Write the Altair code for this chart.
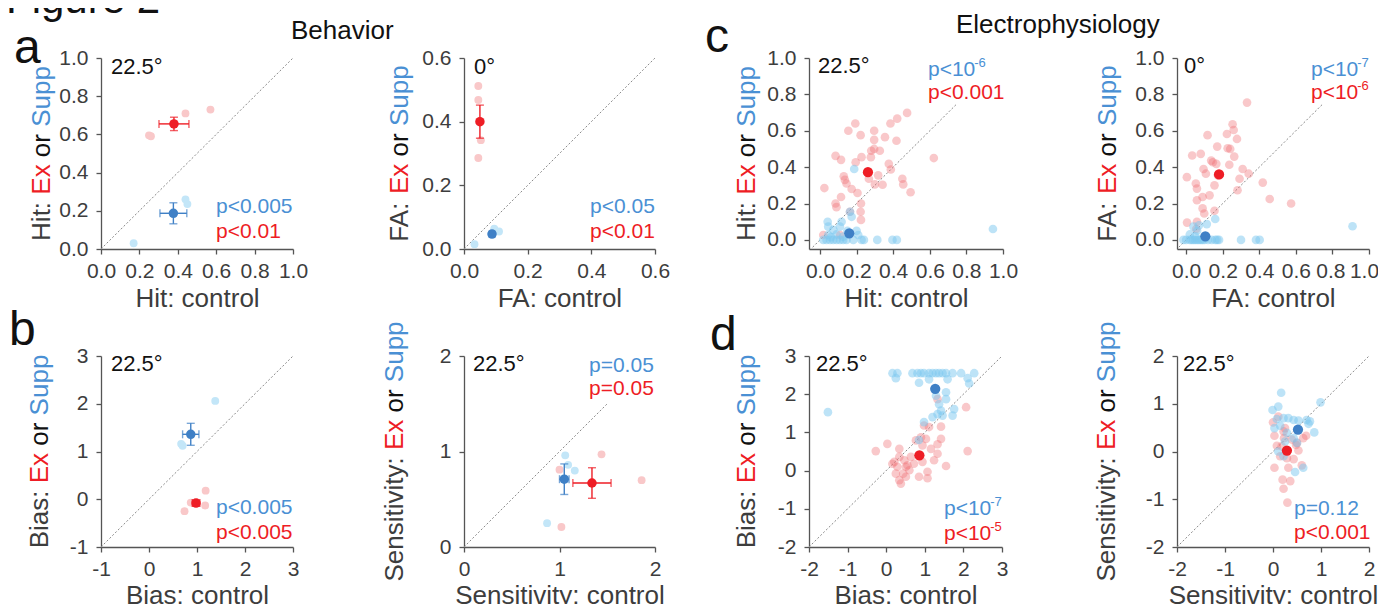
import altair as alt
import pandas as pd

FONT = "Liberation Sans"
RED = "#EE1D25"
BLUE_T = "#4A90D4"
DBLUE = "#3F80C6"
PINK = "#F9C8C9"
LBLUE = "#C3E6F8"
GRAY = "#3d3d3d"
AXC = "#555555"

# ---------------- data ----------------
# a (left): Hit, behavior
a_ex_x = [0.25, 0.26, 0.44, 0.57]
a_ex_y = [0.595, 0.59, 0.71, 0.73]
a_sp_x = [0.17, 0.44, 0.45]
a_sp_y = [0.03, 0.26, 0.235]
a_ex_mean = [0.38, 0.655]; a_ex_err = [0.078, 0.035]
a_sp_mean = [0.377, 0.187]; a_sp_err = [0.07, 0.055]

# a (right): FA, behavior
a2_ex_x = [0.045, 0.045, 0.053, 0.045]
a2_ex_y = [0.512, 0.468, 0.342, 0.286]
a2_sp_x = [0.033, 0.095, 0.11]
a2_sp_y = [0.015, 0.064, 0.055]
a2_ex_mean = [0.05, 0.40]; a2_ex_err = [0.004, 0.052]
a2_sp_mean = [0.088, 0.047]; a2_sp_err = [0.008, 0.006]

# b (left): Bias, behavior
b_ex_x = [1.18, 0.74, 0.87, 1.17]
b_ex_y = [0.18, -0.25, -0.07, -0.13]
b_sp_x = [1.38, 0.67, 0.70]
b_sp_y = [2.06, 1.16, 1.12]
b_ex_mean = [0.98, -0.08]; b_ex_err = [0.08, 0.06]
b_sp_mean = [0.87, 1.36]; b_sp_err = [0.17, 0.23]

# b (right): Sensitivity, behavior
b2_ex_x = [1.00, 1.44, 1.86, 1.02]
b2_ex_y = [0.81, 0.97, 0.70, 0.21]
b2_sp_x = [1.06, 1.09, 1.16, 0.87]
b2_sp_y = [0.96, 0.86, 0.80, 0.25]
b2_ex_mean = [1.34, 0.67]; b2_ex_err = [0.2, 0.16]
b2_sp_mean = [1.05, 0.71]; b2_sp_err = [0.05, 0.16]

# c (left): Hit, electrophysiology
c_ex_x = [0.024, 0.085, 0.115, 0.085, 0.09, 0.115, 0.13, 0.136, 0.145, 0.155, 0.173, 0.193,
          0.195, 0.205, 0.222, 0.227, 0.224, 0.222, 0.224, 0.278, 0.28, 0.296, 0.296, 0.296,
          0.318, 0.327, 0.342, 0.355, 0.30, 0.385, 0.376, 0.387, 0.418, 0.422, 0.45, 0.455,
          0.476, 0.495, 0.622, 0.267, 0.018, 0.11, 0.164]
c_ex_y = [0.285, 0.462, 0.44, 0.20, 0.18, 0.236, 0.35, 0.33, 0.31, 0.60, 0.28, 0.64,
          0.427, 0.258, 0.576, 0.455, 0.20, 0.155, 0.11, 0.455, 0.49, 0.60, 0.55, 0.50,
          0.355, 0.49, 0.303, 0.565, 0.305, 0.64, 0.418, 0.387, 0.545, 0.667, 0.336, 0.305,
          0.698, 0.262, 0.45, 0.336, 0.027, 0.027, 0.155]
c_sp_x = [0.018, 0.036, 0.055, 0.073, 0.091, 0.109, 0.127, 0.145, 0.182, 0.227, 0.24, 0.313,
          0.396, 0.42, 0.042, 0.045, 0.118, 0.109, 0.073, 0.164, 0.173, 0.209, 0.045, 0.127,
          0.187, 0.945, 0.20, 0.09, 0.15, 0.06]
c_sp_y = [0.0, 0.0, 0.0, 0.0, 0.0, 0.0, 0.0, 0.0, 0.0, 0.0, 0.0, 0.0,
          0.0, 0.0, 0.10, 0.073, 0.10, 0.073, 0.055, 0.155, 0.127, 0.027, 0.027, 0.018,
          0.39, 0.06, 0.05, 0.03, 0.05, 0.015]
c_ex_mean = [0.262, 0.372]
c_sp_mean = [0.16, 0.036]

# c (right): FA, electrophysiology
c2_ex_x = [0.004, 0.033, 0.005, 0.053, 0.059, 0.059, 0.08, 0.09, 0.09, 0.099, 0.095, 0.108,
           0.117, 0.128, 0.137, 0.146, 0.155, 0.155, 0.165, 0.17, 0.174, 0.223, 0.227, 0.241,
           0.236, 0.254, 0.26, 0.263, 0.278, 0.281, 0.292, 0.309, 0.333, 0.342, 0.419, 0.457,
           0.574, 0.059, 0.055]
c2_ex_y = [0.345, 0.464, 0.095, 0.31, 0.282, 0.218, 0.473, 0.236, 0.173, 0.145, 0.39, 0.364,
           0.576, 0.245, 0.436, 0.427, 0.30, 0.16, 0.418, 0.513, 0.355, 0.582, 0.504, 0.50,
           0.413, 0.636, 0.604, 0.458, 0.555, 0.273, 0.336, 0.39, 0.755, 0.364, 0.315, 0.225,
           0.20, 0.10, 0.06]
c2_sp_x = [-0.015, 0.0, 0.02, 0.03, 0.04, 0.05, 0.06, 0.07, 0.08, 0.09, 0.10, 0.12, 0.14,
           0.16, 0.17, 0.18, 0.30, 0.382, 0.402, 0.159, 0.113, 0.04, 0.06, 0.02, 0.05, 0.91, 0.07]
c2_sp_y = [0.0, 0.0, 0.0, 0.0, 0.0, 0.0, 0.0, 0.0, 0.0, 0.0, 0.0, 0.0, 0.0,
           0.0, 0.0, 0.0, 0.0, 0.0, 0.0, 0.115, 0.087, 0.073, 0.05, 0.03, 0.02, 0.075, 0.08]
c2_ex_mean = [0.18, 0.36]
c2_sp_mean = [0.105, 0.02]

# d (left): Bias, electrophysiology
d_ex_x = [2.07, 1.33, 0.98, 1.11, 1.42, 0.77, 1.03, 1.42, 0.03, 0.34, 0.94, 1.33, 1.16,
          -0.27, 2.11, 0.34, 0.21, 0.47, 0.64, 0.94, 1.24, 1.33, 0.16, 0.55, 0.72, 1.55,
          0.25, 0.44, 0.60, 0.51, 0.38, 0.34, 0.85, 1.07, 1.07, 0.51, 0.29, 0.90]
d_ex_y = [1.66, 1.87, 1.18, 1.14, 1.15, 0.79, 0.83, 0.83, 0.70, 0.57, 0.66, 0.69, 0.57,
          0.51, 0.51, 0.36, 0.23, 0.27, 0.36, 0.23, 0.27, 0.44, 0.18, 0.14, 0.18, 0.12,
          -0.08, -0.08, 0.01, -0.16, -0.34, -0.25, -0.16, -0.03, -0.20, 0.10, 0.10, 0.87]
d_sp_x = [0.163, 0.29, 0.68, 0.81, 0.90, 0.98, 1.11, 1.20, 1.29, 1.37, 1.46, 1.55, 1.72,
          1.94, 2.28, 0.25, 0.85, 1.11, 1.59, 2.11, 2.15, -1.51, 1.55, 1.55, 1.29, 1.37,
          1.42, 1.33, 1.20, 1.46, 1.76, 1.72, 0.98, 0.85]
d_sp_y = [2.55, 2.55, 2.55, 2.55, 2.55, 2.55, 2.55, 2.55, 2.55, 2.55, 2.55, 2.55, 2.55,
          2.55, 2.55, 2.42, 2.30, 2.39, 2.39, 2.42, 2.28, 1.53, 2.05, 1.87, 1.96, 1.74,
          1.57, 1.48, 1.40, 1.44, 1.61, 1.44, 1.27, 0.80]
d_ex_mean = [0.86, 0.40]
d_sp_mean = [1.27, 2.14]

# d (right): Sensitivity, electrophysiology
d2_ex_x = [0.0, 0.11, 0.03, 0.08, 0.18, 0.23, 0.39, 0.50, 0.63, 0.69, 0.48, 0.53, 0.15,
           0.29, 0.43, 0.60, 0.03, 0.32, 0.36, 0.20, 0.22, 0.30, 0.22, 0.25]
d2_ex_y = [0.61, 0.73, 0.33, 0.12, 0.11, 0.28, 0.25, 0.18, 0.28, 0.33, 0.14, 0.02, -0.10,
           -0.14, -0.16, -0.29, -0.34, -0.34, -0.62, -0.59, -0.78, -1.07, 0.42, 0.49]
d2_sp_x = [0.17, 0.11, -0.01, 0.99, 0.08, 0.22, 0.32, 0.43, 0.53, 0.70, 0.77, 0.74, 0.86,
           0.03, 0.15, 0.29, 0.43, 0.25, 0.50, 0.63, 0.46, 0.22, 0.11]
d2_sp_y = [1.23, 0.94, 0.87, 1.03, 0.68, 0.70, 0.70, 0.66, 0.65, 0.66, 0.63, 0.58, 0.40,
           0.49, 0.54, 0.39, 0.28, 0.21, 0.18, -0.34, -0.43, -0.10, 0.0]
d2_ex_mean = [0.29, 0.02]
d2_sp_mean = [0.52, 0.46]

# ---------------- helpers ----------------
AW = {' ': 278, ':': 278, 'A': 667, 'B': 667, 'E': 667, 'F': 611, 'H': 722, 'S': 667,
      'a': 556, 'c': 500, 'e': 556, 'i': 222, 'l': 222, 'n': 556, 'o': 556, 'p': 556,
      'r': 333, 's': 500, 't': 278, 'u': 556, 'v': 500, 'x': 500, 'y': 500, '<': 584,
      '0': 556, '1': 556}


def tw(s, fs):
    return sum(AW.get(ch, 556) for ch in s) / 1000.0 * fs


DUMMY = pd.DataFrame({"d": [0]})
PH = 191


def txt(s, x, y, fs, color, angle=0):
    kw = dict(text=s, align="left", baseline="alphabetic", fontSize=fs, color=color, font=FONT)
    if angle:
        kw["angle"] = angle
    return alt.Chart(DUMMY).mark_text(**kw).encode(x=alt.value(x), y=alt.value(y))


def make_panel(c):
    pw = c["pw"]
    sx = alt.Scale(domain=c["xdom"], range=[0, pw], nice=False, zero=False)
    sy = alt.Scale(domain=c["ydom"], nice=False, zero=False)
    lab = "toString(datum.value)" if c["int"] else "format(datum.value, '.1f')"
    axkw = dict(values=c["ticks"], labelExpr=lab, title=c["xtitle"], titleX=pw / 2,
                titleY=c["ty"], titleBaseline="alphabetic", titleAlign="center")
    if c.get("squeeze"):
        # keep the last labels inside the page edge
        axkw["labelOffset"] = {"condition": [{"test": "datum.value > 0.9", "value": -5},
                                             {"test": "datum.value > 0.7", "value": -2}],
                               "value": 0}
    ax = alt.Axis(**axkw)
    ay = alt.Axis(values=c["ticks"], labelExpr=lab, title=None)

    def X(f):
        return alt.X(f, type="quantitative", scale=sx, axis=ax)

    def Y(f):
        return alt.Y(f, type="quantitative", scale=sy, axis=ay)

    lo, hi = c["diag"]
    layers = []
    diag = pd.DataFrame({"x": [lo], "y": [lo], "x2": [hi], "y2": [hi]})
    layers.append(alt.Chart(diag).mark_rule(color="#8a8a8a", strokeDash=[2, 2], strokeWidth=1)
                  .encode(x=X("x"), y=Y("y"), x2="x2", y2="y2"))
    ex = pd.DataFrame({"x": c["ex_x"], "y": c["ex_y"]})
    sp = pd.DataFrame({"x": c["sp_x"], "y": c["sp_y"]})
    if c["beh"]:
        layers.append(alt.Chart(ex).mark_circle(size=62, color=PINK, opacity=1).encode(x=X("x"), y=Y("y")))
        layers.append(alt.Chart(sp).mark_circle(size=62, color=LBLUE, opacity=1).encode(x=X("x"), y=Y("y")))
        for mean, err, col in [(c["sp_mean"], c["sp_err"], DBLUE), (c["ex_mean"], c["ex_err"], RED)]:
            m = pd.DataFrame({"x": [mean[0]], "y": [mean[1]],
                              "xlo": [mean[0] - err[0]], "xhi": [mean[0] + err[0]],
                              "ylo": [mean[1] - err[1]], "yhi": [mean[1] + err[1]]})
            layers.append(alt.Chart(m).mark_errorbar(ticks=True, size=8, thickness=1.4, color=col)
                          .encode(x=X("xlo"), x2="xhi", y=Y("y")))
            layers.append(alt.Chart(m).mark_errorbar(ticks=True, size=8, thickness=1.4, color=col)
                          .encode(x=X("x"), y=Y("ylo"), y2="yhi"))
            layers.append(alt.Chart(m).mark_circle(size=90, color=col, opacity=1).encode(x=X("x"), y=Y("y")))
    else:
        layers.append(alt.Chart(ex).mark_circle(size=75, color="#ef6f73", opacity=0.38).encode(x=X("x"), y=Y("y")))
        layers.append(alt.Chart(sp).mark_circle(size=75, color="#7cc8f0", opacity=0.5).encode(x=X("x"), y=Y("y")))
        for mean, col in [(c["sp_mean"], DBLUE), (c["ex_mean"], RED)]:
            m = pd.DataFrame({"x": [mean[0]], "y": [mean[1]]})
            layers.append(alt.Chart(m).mark_circle(size=105, color=col, opacity=1).encode(x=X("x"), y=Y("y")))

    # y-axis title in colored parts (rotated)
    fs = 26
    parts = [(c["ylab"], GRAY), ("Ex", RED), ("or", "#111111"), ("Supp", BLUE_T)]
    full = " ".join(p for p, _ in parts)
    start = PH / 2 + tw(full, fs) / 2
    cum = ""
    for p, col in parts:
        layers.append(txt(p, c["ytx"], start - tw(cum, fs), fs, col, angle=270))
        cum += p + " "

    # annotations
    layers.append(txt(c["angle"], c["angle_xy"][0], c["angle_xy"][1], 22, "#111111"))
    for (s, sup, x, y, col) in c["pvals"]:
        layers.append(txt(s, x, y, 21, col))
        if sup:
            layers.append(txt(sup, x + tw(s, 21) - 1, y - 9, 13, col))
    for extra in c.get("extra", []):
        layers.append(extra)

    return alt.layer(*layers).properties(width=c["w"], height=PH)


extras = [
    txt("Figure 2", -95, -45, 42, "#111111"),
    txt("a", -87, 5, 48, "#111111"),
    txt("b", -92, 287, 48, "#111111"),
    txt("c", 604, -6, 48, "#111111"),
    txt("d", 609, 292, 48, "#111111"),
    txt("Behavior", 190, -19, 26, "#111111"),
    txt("Electrophysiology", 855, -25, 26, "#111111"),
]

cfgs = [
    dict(w=213, pw=192, xdom=[0, 1], ydom=[0, 1], ticks=[0, 0.2, 0.4, 0.6, 0.8, 1.0], int=False,
         xtitle="Hit: control", ylab="Hit:", ty=57, ytx=-51, diag=[0, 1], beh=True,
         ex_x=a_ex_x, ex_y=a_ex_y, sp_x=a_sp_x, sp_y=a_sp_y,
         ex_mean=a_ex_mean, ex_err=a_ex_err, sp_mean=a_sp_mean, sp_err=a_sp_err,
         angle="22.5°", angle_xy=[10, 16],
         pvals=[("p<0.005", None, 115, 155, BLUE_T), ("p<0.01", None, 115, 180, RED)],
         extra=extras),
    dict(w=195, pw=191, xdom=[0, 0.6], ydom=[0, 0.6], ticks=[0, 0.2, 0.4, 0.6], int=False,
         xtitle="FA: control", ylab="FA:", ty=57, ytx=-56, diag=[0, 0.6], beh=True,
         ex_x=a2_ex_x, ex_y=a2_ex_y, sp_x=a2_sp_x, sp_y=a2_sp_y,
         ex_mean=a2_ex_mean, ex_err=a2_ex_err, sp_mean=a2_sp_mean, sp_err=a2_sp_err,
         angle="0°", angle_xy=[10, 16],
         pvals=[("p<0.05", None, 126, 155, BLUE_T), ("p<0.01", None, 126, 180, RED)]),
    dict(w=218, pw=194, xdom=[-0.06, 1], ydom=[-0.05, 1], ticks=[0, 0.2, 0.4, 0.6, 0.8, 1.0], int=False,
         xtitle="Hit: control", ylab="Hit:", ty=57, ytx=-54, diag=[-0.04, 0.75], beh=False,
         ex_x=c_ex_x, ex_y=c_ex_y, sp_x=c_sp_x, sp_y=c_sp_y,
         ex_mean=c_ex_mean, sp_mean=c_sp_mean,
         angle="22.5°", angle_xy=[9, 15],
         pvals=[("p<10", "-6", 119, 18, BLUE_T), ("p<0.001", None, 119, 41, RED)]),
    dict(w=192, pw=192, xdom=[-0.05, 1], ydom=[-0.05, 1], ticks=[0, 0.2, 0.4, 0.6, 0.8, 1.0], int=False,
         xtitle="FA: control", ylab="FA:", ty=57, ytx=-61, diag=[-0.04, 0.75], beh=False, squeeze=True,
         ex_x=c2_ex_x, ex_y=c2_ex_y, sp_x=c2_sp_x, sp_y=c2_sp_y,
         ex_mean=c2_ex_mean, sp_mean=c2_sp_mean,
         angle="0°", angle_xy=[7, 15],
         pvals=[("p<10", "-7", 134, 18, BLUE_T), ("p<10", "-6", 134, 41, RED)]),
    dict(w=213, pw=192, xdom=[-1, 3], ydom=[-1, 3], ticks=[-1, 0, 1, 2, 3], int=True,
         xtitle="Bias: control", ylab="Bias:", ty=56, ytx=-53, diag=[-1, 3], beh=True,
         ex_x=b_ex_x, ex_y=b_ex_y, sp_x=b_sp_x, sp_y=b_sp_y,
         ex_mean=b_ex_mean, ex_err=b_ex_err, sp_mean=b_sp_mean, sp_err=b_sp_err,
         angle="22.5°", angle_xy=[10, 15],
         pvals=[("p<0.005", None, 115, 158, BLUE_T), ("p<0.005", None, 115, 183, RED)]),
    dict(w=195, pw=191, xdom=[0, 2], ydom=[0, 2], ticks=[0, 1, 2], int=True,
         xtitle="Sensitivity: control", ylab="Sensitivity:", ty=56, ytx=-61, diag=[0, 1.5], beh=True,
         ex_x=b2_ex_x, ex_y=b2_ex_y, sp_x=b2_sp_x, sp_y=b2_sp_y,
         ex_mean=b2_ex_mean, ex_err=b2_ex_err, sp_mean=b2_sp_mean, sp_err=b2_sp_err,
         angle="22.5°", angle_xy=[9, 15],
         pvals=[("p=0.05", None, 125, 16, BLUE_T), ("p=0.05", None, 125, 39, RED)]),
    dict(w=218, pw=193, xdom=[-2, 3], ydom=[-2, 3], ticks=[-2, -1, 0, 1, 2, 3], int=True,
         xtitle="Bias: control", ylab="Bias:", ty=56, ytx=-54, diag=[-2, 3], beh=False,
         ex_x=d_ex_x, ex_y=d_ex_y, sp_x=d_sp_x, sp_y=d_sp_y,
         ex_mean=d_ex_mean, sp_mean=d_sp_mean,
         angle="22.5°", angle_xy=[7, 15],
         pvals=[("p<10", "-7", 135, 159, BLUE_T), ("p<10", "-5", 135, 184, RED)]),
    dict(w=192, pw=192, xdom=[-2, 2], ydom=[-2, 2], ticks=[-2, -1, 0, 1, 2], int=True,
         xtitle="Sensitivity: control", ylab="Sensitivity:", ty=56, ytx=-62, diag=[-2, 2], beh=False,
         ex_x=d2_ex_x, ex_y=d2_ex_y, sp_x=d2_sp_x, sp_y=d2_sp_y,
         ex_mean=d2_ex_mean, sp_mean=d2_sp_mean,
         angle="22.5°", angle_xy=[6, 15],
         pvals=[("p=0.12", None, 117, 159, BLUE_T), ("p<0.001", None, 117, 183, RED)]),
]

panels = [make_panel(c) for c in cfgs]

chart = alt.concat(*panels, columns=4, spacing={"row": 107, "column": 150},
                   bounds="flush", align="each").properties(
    autosize=alt.AutoSizeParams(type="none"),
    padding={"left": 93, "top": 50, "right": 1277, "bottom": 546},
).configure_view(stroke=None).configure_axis(
    domainColor=AXC, tickColor=AXC, domainWidth=1.3, tickWidth=1.3, tickSize=5,
    labelFont=FONT, labelFontSize=21, labelColor=GRAY, labelPadding=6,
    labelFlush=False, labelOverlap=False, grid=False,
    titleFont=FONT, titleFontSize=26, titleColor=GRAY, titleFontWeight="normal",
).configure_axisY(labelPadding=8)

chart.save("out.html", embed_options={"renderer": "svg", "actions": False})
